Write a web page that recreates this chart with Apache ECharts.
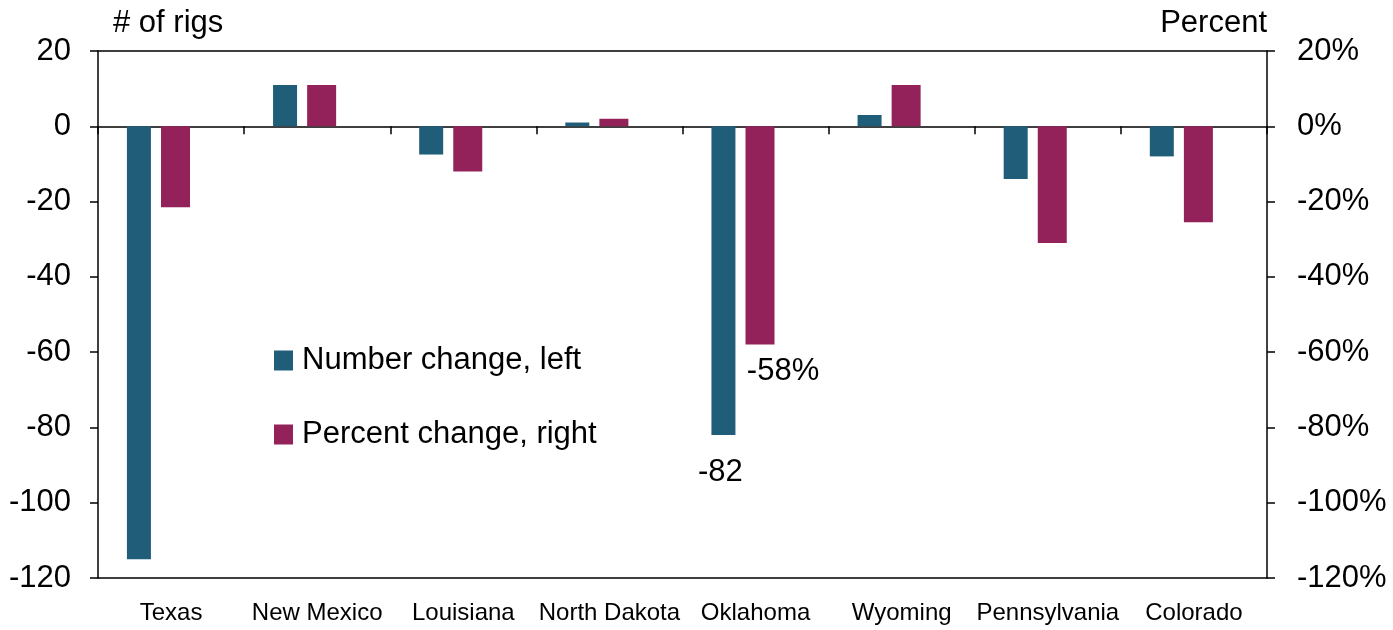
<!DOCTYPE html>
<html>
<head>
<meta charset="utf-8">
<script src="https://cdn.jsdelivr.net/npm/echarts@6/dist/echarts.min.js"></script>
<style>
  html, body { margin: 0; padding: 0; background: #fff; }
  #main { width: 1393px; height: 630px; }
</style>
</head>
<body>
<div id="main"></div>
<script>
// data
var states = ["Texas", "New Mexico", "Louisiana", "North Dakota", "Oklahoma", "Wyoming", "Pennsylvania", "Colorado"];
var numberChange = [-115, 11, -7.5, 1, -82, 3, -14, -8];
var percentChange = [-21.5, 11, -12, 2, -58, 11, -31, -25.5];
var leftTicks = [-120, 20, 20];   // min, max, interval
var rightTicks = [-120, 20, 20];

var font = "Liberation Sans, Arial, sans-serif";
var teal = "#1f5d79";
var plum = "#93225a";

var myChart = echarts.init(document.getElementById("main"));

// label only on the Oklahoma bars
var numData = numberChange.map(function (v, i) {
  if (states[i] === "Oklahoma") {
    return { value: v, label: { show: true, position: "bottom", distance: 22, offset: [-3, 0], formatter: "{c}" } };
  }
  return v;
});
var pctData = percentChange.map(function (v, i) {
  if (states[i] === "Oklahoma") {
    return { value: v, label: { show: true, position: "bottom", distance: 11, offset: [23, 0], formatter: "-58%" } };
  }
  return v;
});

var option = {
  animation: false,
  textStyle: { fontFamily: font },
  grid: { left: 98, right: 126, top: 51, bottom: 52 },
  legend: {
    data: ["Number change, left", "Percent change, right"],
    orient: "vertical",
    left: 269,
    top: 340,
    itemWidth: 19,
    itemHeight: 20,
    itemGap: 43,
    icon: "rect",
    textStyle: { fontSize: 31, color: "#000", fontFamily: font, padding: [0, 0, 0, 4] }
  },
  xAxis: [
    {
      type: "category",
      data: states,
      position: "bottom",
      axisLine: { onZero: false, lineStyle: { color: "#000", width: 1.5 } },
      axisTick: { show: false },
      axisLabel: { interval: 0, fontSize: 24, color: "#000", margin: 23, fontFamily: font }
    },
    {
      type: "category",
      data: states,
      position: "bottom",
      axisLine: { onZero: true, lineStyle: { color: "#000", width: 1.5 } },
      axisTick: { show: true, length: 8, alignWithLabel: false, lineStyle: { color: "#000", width: 1.5 } },
      axisLabel: { show: false }
    },
    {
      type: "category",
      data: states,
      position: "top",
      axisLine: { onZero: false, lineStyle: { color: "#000", width: 1.5 } },
      axisTick: { show: false },
      axisLabel: { show: false }
    }
  ],
  yAxis: [
    {
      type: "value",
      min: leftTicks[0],
      max: leftTicks[1],
      interval: leftTicks[2],
      position: "left",
      name: "# of rigs",
      nameLocation: "end",
      nameGap: 12,
      nameTextStyle: { fontSize: 31, color: "#000", align: "left", padding: [0, 0, 0, 15], fontFamily: font },
      axisLine: { show: true, lineStyle: { color: "#000", width: 1.5 } },
      axisTick: { show: true, length: 8, lineStyle: { color: "#000", width: 1.5 } },
      axisLabel: { fontSize: 31, color: "#000", margin: 27, fontFamily: font },
      splitLine: { show: false }
    },
    {
      type: "value",
      min: rightTicks[0],
      max: rightTicks[1],
      interval: rightTicks[2],
      position: "right",
      name: "Percent",
      nameLocation: "end",
      nameGap: 12,
      nameTextStyle: { fontSize: 31, color: "#000", align: "right", fontFamily: font },
      axisLine: { show: true, lineStyle: { color: "#000", width: 1.5 } },
      axisTick: { show: true, length: 8, lineStyle: { color: "#000", width: 1.5 } },
      axisLabel: { fontSize: 31, color: "#000", margin: 30, formatter: "{value}%", fontFamily: font },
      splitLine: { show: false }
    }
  ],
  series: [
    {
      name: "Number change, left",
      type: "bar",
      xAxisIndex: 0,
      yAxisIndex: 0,
      barWidth: 24,
      barGap: "42%",
      itemStyle: { color: teal },
      label: { fontSize: 31, color: "#000", fontFamily: font },
      data: numData,
      z: 1
    },
    {
      name: "Percent change, right",
      type: "bar",
      xAxisIndex: 0,
      yAxisIndex: 1,
      barWidth: 29,
      itemStyle: { color: plum },
      label: { fontSize: 31, color: "#000", fontFamily: font },
      data: pctData,
      z: 1
    },
    {
      // empty slot so the bar pair sits left of the category centre as in the original
      name: "spacer",
      type: "bar",
      xAxisIndex: 0,
      yAxisIndex: 0,
      barWidth: 13,
      data: []
    }
  ]
};

myChart.setOption(option);
</script>
</body>
</html>
